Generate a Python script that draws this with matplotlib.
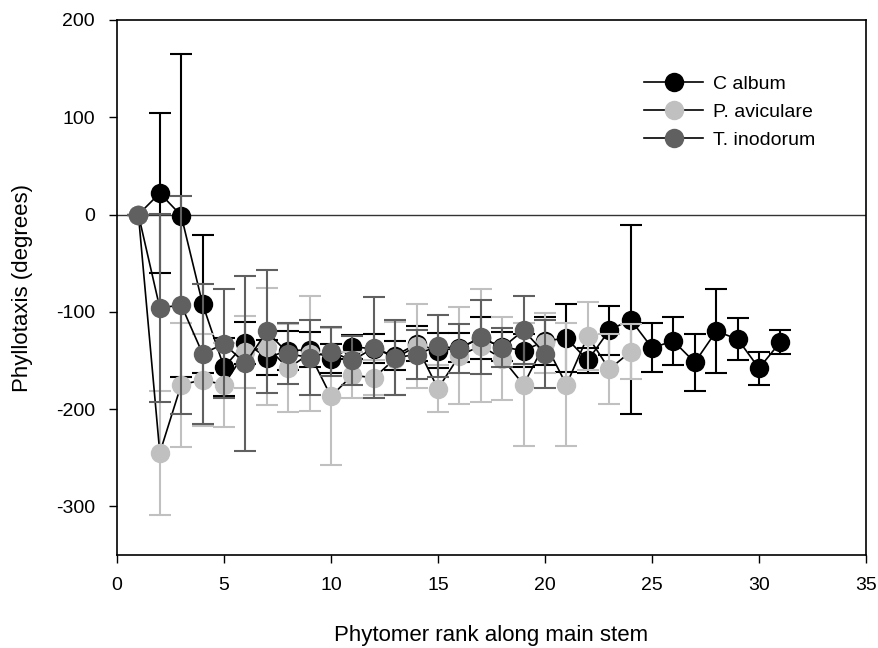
import matplotlib
matplotlib.use("Agg")
import matplotlib.pyplot as plt
import numpy as np

plt.rcParams['font.family'] = ['Liberation Sans', 'DejaVu Sans']
plt.rcParams['axes.unicode_minus'] = False

x_c = list(range(1, 32))
c_album = [0, 22, -1, -92, -157, -132, -147, -140, -139, -148, -136, -138, -145, -133, -140,
           -137, -127, -136, -140, -130, -127, -150, -119, -108, -137, -130, -152, -120, -128, -158, -131]
c_album_err = [0, 82, 166, 71, 30, 22, 18, 20, 18, 15, 12, 15, 15, 18, 18,
               15, 22, 15, 17, 25, 35, 13, 25, 97, 25, 25, 29, 43, 22, 17, 12]

x_p = list(range(1, 25))
p_avic = [0, -245, -175, -170, -175, -141, -136, -158, -143, -187, -165, -168, -148, -135, -179,
          -145, -135, -148, -175, -132, -175, -125, -159, -141]
p_avic_err = [0, 64, 64, 47, 43, 37, 60, 45, 59, 70, 24, 18, 38, 43, 24,
              50, 58, 43, 63, 31, 63, 35, 36, 28]

x_t = list(range(1, 21))
t_inod = [0, -96, -93, -143, -133, -153, -120, -143, -147, -141, -150, -137, -147, -144, -135,
          -138, -126, -137, -119, -143]
t_inod_err = [0, 97, 112, 72, 56, 90, 63, 31, 39, 25, 25, 52, 39, 25, 32,
              25, 38, 20, 35, 35]

series = [
    ("C album", x_c, c_album, c_album_err, "#000000"),
    ("P. aviculare", x_p, p_avic, p_avic_err, "#c0c0c0"),
    ("T. inodorum", x_t, t_inod, t_inod_err, "#606060"),
]

fig = plt.figure(figsize=(8.79, 6.48), dpi=100)
ax = fig.add_axes([117/879, 1-555/648, (866-117)/879, (555-20)/648])

ax.axhline(0, color="#333333", lw=1.0, zorder=1)

handles = []
for i, (name, xs, ys, es, col) in enumerate(series):
    ax.errorbar(xs, ys, yerr=es, fmt='none', ecolor=col, elinewidth=1.5,
                capsize=8, capthick=1.5, zorder=2 + i * 3)
    ax.plot(xs, ys, color='black', lw=1.2, zorder=3 + i * 3)
    ax.plot(xs, ys, marker='o', markersize=14,
            markerfacecolor=col, markeredgecolor=col, markeredgewidth=0,
            linestyle='none', zorder=4 + i * 3)
    handles.append(ax.plot([], [], color='black', lw=1.2, marker='o', markersize=14,
                           markerfacecolor=col, markeredgecolor=col, markeredgewidth=0,
                           label=name)[0])

ax.set_xlim(0, 35)
ax.set_ylim(-350, 200)
ax.set_xticks(range(0, 36, 5))
ax.set_yticks([-300, -200, -100, 0, 100, 200])
ax.tick_params(direction='out', length=6, width=1, labelsize=14, pad=10)
for sp in ax.spines.values():
    sp.set_linewidth(1.2)

ax.set_xlabel("Phytomer rank along main stem", fontsize=16, labelpad=22)
ax.set_ylabel("Phyllotaxis (degrees)", fontsize=16, labelpad=16)

leg = ax.legend(handles=handles, loc='upper right', bbox_to_anchor=(0.955, 0.93),
                frameon=False, fontsize=14, handlelength=3.0, handletextpad=0.5,
                labelspacing=0.55)

fig.savefig("out.png", dpi=100)
